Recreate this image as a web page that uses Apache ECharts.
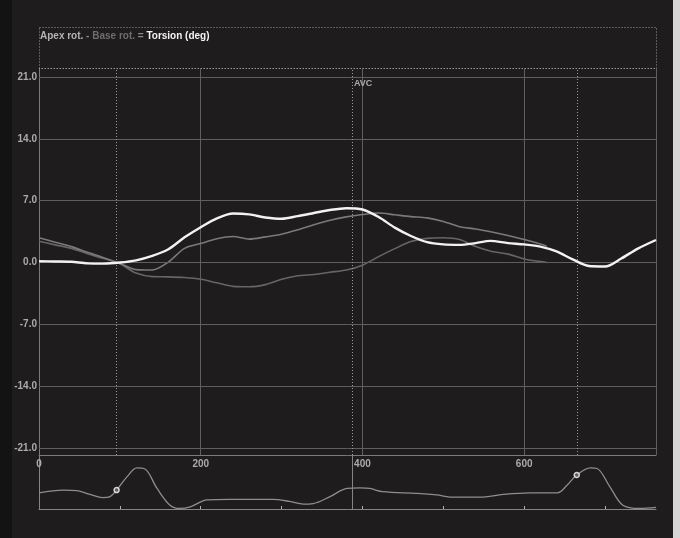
<!DOCTYPE html>
<html>
<head>
<meta charset="utf-8">
<script src="https://cdn.jsdelivr.net/npm/echarts@6/dist/echarts.min.js"></script>
<style>
  html, body { margin: 0; padding: 0; background: #1e1c1d; }
  #chart { width: 680px; height: 538px; }
</style>
</head>
<body>
<div id="chart"></div>
<script>
// Time axis (ms) and rotation curves (degrees)
const torsionMs  = [0, 20, 40, 60, 80, 100, 120, 140, 160, 180, 200, 220, 240, 260, 280, 300, 320, 340, 360, 380,
                    400, 420, 440, 460, 480, 500, 520, 540, 558, 580, 600, 620, 640, 660, 680, 700, 720, 740, 763];
const torsionDeg = [0.15, 0.12, 0.08, -0.1, -0.12, 0.0, 0.25, 0.75, 1.5, 2.85, 4.0, 5.0, 5.55, 5.45, 5.1, 4.95, 5.25, 5.6, 5.95, 6.15,
                    6.0, 5.15, 3.95, 3.0, 2.3, 2.05, 2.0, 2.2, 2.45, 2.2, 2.05, 1.8, 1.25, 0.35, -0.4, -0.45, 0.45, 1.55, 2.55];

const rotMs   = [0, 20, 40, 60, 80, 100, 120, 140, 160, 180, 200, 220, 240, 260, 280, 300, 320, 340, 360, 380,
                 400, 420, 440, 460, 480, 500, 520, 540, 560, 580, 600, 620, 628];
const apexDeg = [2.8, 2.3, 1.8, 1.15, 0.55, -0.1, -0.8, -0.85, 0.05, 1.6, 2.15, 2.7, 2.95, 2.65, 2.9, 3.2, 3.7, 4.27, 4.78, 5.17,
                 5.43, 5.6, 5.4, 5.2, 5.05, 4.65, 4.05, 3.8, 3.45, 3.05, 2.6, 2.1, 1.85];
const baseDeg = [2.4, 2.0, 1.6, 1.0, 0.45, -0.15, -1.2, -1.6, -1.62, -1.7, -1.9, -2.3, -2.7, -2.75, -2.5, -1.9, -1.5, -1.35, -1.1, -0.85,
                 -0.3, 0.67, 1.57, 2.37, 2.73, 2.8, 2.6, 1.8, 1.25, 0.95, 0.4, 0.1, 0.0];

// ECG trace (relative amplitude 0..1)
const ecgMs  = [0, 30, 47, 63, 79, 88, 96, 109, 121, 131, 146, 162, 174, 187, 208, 236, 289, 310, 327, 339, 360, 381, 397,
                409, 425, 468, 492, 508, 549, 574, 607, 641, 653, 665, 682, 690, 706, 722, 743, 763];
const ecgVal = [0.30, 0.35, 0.34, 0.27, 0.21, 0.23, 0.35, 0.60, 0.76, 0.74, 0.38, 0.07, 0.01, 0.04, 0.17, 0.18, 0.18, 0.14, 0.09, 0.10, 0.23, 0.38, 0.39,
                0.38, 0.32, 0.29, 0.26, 0.22, 0.22, 0.27, 0.30, 0.30, 0.44, 0.63, 0.76, 0.75, 0.41, 0.07, 0.01, 0.03];

// ECG trigger events and aortic valve closure
const eventMs  = [96, 665];
const eventVal = [0.35, 0.63];
const avcMs = 387;

// Axis settings
const X_MAX = 763;
const Y_TOP = 22.02;
const Y_BOTTOM = -21.79;
const yTicks = [-21, -14, -7, 0, 7, 14, 21];
const xLabels = [0, 200, 400, 600];
const ecgTicks = [100, 200, 300, 400, 500, 600, 700];

const pairs = (t, v) => t.map((x, i) => [x, v[i]]);

const GRID_COLOR = '#5f5f5f';
const DOT_COLOR = '#9a9a9a';
const LABEL_COLOR = '#ababab';
const FONT = '"Liberation Sans", Arial, sans-serif';

const chart = echarts.init(document.getElementById('chart'), null, { renderer: 'canvas' });

const frameLines = [
  ...yTicks.map(v => ({ yAxis: v, lineStyle: { type: 'solid', color: GRID_COLOR, width: 1 } })),
  { yAxis: Y_TOP, lineStyle: { type: [1, 2], color: DOT_COLOR, width: 1 } },
  { xAxis: X_MAX, lineStyle: { type: 'solid', color: GRID_COLOR, width: 1 } },
  ...eventMs.map(v => ({ xAxis: v, lineStyle: { type: [1, 2], color: DOT_COLOR, width: 1 } })),
  { xAxis: avcMs, lineStyle: { type: [1, 2], color: DOT_COLOR, width: 1 } }
];

chart.setOption({
  animation: false,
  backgroundColor: '#1e1c1d',
  title: {
    left: 40,
    top: 31,
    padding: 0,
    text: '{a|Apex rot.} {m|-} {b|Base rot.} {m|=} {t|Torsion (deg)}',
    textStyle: {
      fontFamily: FONT,
      fontSize: 10,
      rich: {
        a: { color: '#b4b4b4', fontSize: 10, fontWeight: 'bold', fontFamily: FONT },
        m: { color: '#8a8a8a', fontSize: 10, fontWeight: 'bold', fontFamily: FONT },
        b: { color: '#6e6e6e', fontSize: 10, fontWeight: 'bold', fontFamily: FONT },
        t: { color: '#f4f4f4', fontSize: 10, fontWeight: 'bold', fontFamily: FONT }
      }
    }
  },
  graphic: [
    {
      type: 'rect',
      silent: true,
      shape: { x: 0, y: 0, width: 12, height: 538 },
      style: { fill: '#141313' }
    },
    {
      type: 'rect',
      silent: true,
      shape: { x: 673, y: 0, width: 7, height: 538 },
      style: { fill: '#d6d6d6' }
    },
    {
      type: 'rect',
      silent: true,
      shape: { x: 39.5, y: 27.5, width: 617, height: 41 },
      style: { fill: 'none', stroke: DOT_COLOR, lineWidth: 1, lineDash: [1, 2] }
    }
  ],
  grid: [
    { left: 39, right: 24, top: 68, bottom: 83 },
    { left: 39, right: 24, top: 455, bottom: 29 }
  ],
  xAxis: [
    {
      type: 'value', gridIndex: 0, min: 0, max: X_MAX, interval: 200,
      axisLine: { show: true, onZero: false, lineStyle: { color: '#7a7a7a', width: 1 } },
      axisTick: { show: false },
      axisLabel: { customValues: xLabels, color: LABEL_COLOR, fontSize: 10, fontFamily: FONT, fontWeight: 'bold', margin: 4 },
      splitLine: { show: true, lineStyle: { color: GRID_COLOR, width: 1 } }
    },
    {
      type: 'value', gridIndex: 1, min: 0, max: X_MAX, interval: 100,
      axisLine: { show: true, onZero: false, lineStyle: { color: '#858585', width: 1 } },
      axisTick: { show: true, inside: true, length: 3, customValues: ecgTicks, lineStyle: { color: '#b0b0b0', width: 1 } },
      axisLabel: { show: false },
      splitLine: { show: false }
    }
  ],
  yAxis: [
    {
      type: 'value', gridIndex: 0, min: Y_BOTTOM, max: Y_TOP,
      axisLine: { show: true, lineStyle: { color: '#7a7a7a', width: 1 } },
      axisTick: { show: false },
      axisLabel: {
        customValues: yTicks, formatter: v => v.toFixed(1),
        color: LABEL_COLOR, fontSize: 10, fontFamily: FONT, fontWeight: 'bold', margin: 2
      },
      splitLine: { show: false }
    },
    {
      type: 'value', gridIndex: 1, min: 0, max: 1,
      axisLine: { show: true, lineStyle: { color: '#858585', width: 1 } },
      axisTick: { show: false },
      axisLabel: { show: false },
      splitLine: { show: false }
    }
  ],
  series: [
    {
      name: 'frame',
      type: 'line',
      xAxisIndex: 0, yAxisIndex: 0,
      data: [],
      silent: true,
      z: 1,
      markLine: {
        silent: true,
        symbol: ['none', 'none'],
        label: { show: false },
        data: frameLines
      },
      markPoint: {
        silent: true,
        data: [{
          coord: [avcMs, 20.3],
          symbol: 'circle',
          symbolSize: 0,
          label: { show: true, formatter: 'AVC', position: 'right', distance: 2,
                   color: LABEL_COLOR, fontSize: 9, fontWeight: 'bold', fontFamily: FONT }
        }]
      }
    },
    {
      name: 'Base rot.',
      type: 'line',
      xAxisIndex: 0, yAxisIndex: 0,
      data: pairs(rotMs, baseDeg),
      smooth: 0.3,
      symbol: 'none',
      z: 3,
      lineStyle: { color: '#666666', width: 1.6 }
    },
    {
      name: 'Apex rot.',
      type: 'line',
      xAxisIndex: 0, yAxisIndex: 0,
      data: pairs(rotMs, apexDeg),
      smooth: 0.3,
      symbol: 'none',
      z: 4,
      lineStyle: { color: '#7a7a7a', width: 1.6 }
    },
    {
      name: 'Torsion',
      type: 'line',
      xAxisIndex: 0, yAxisIndex: 0,
      data: pairs(torsionMs, torsionDeg),
      smooth: 0.3,
      symbol: 'none',
      z: 5,
      lineStyle: { color: '#f2f2f2', width: 2.4 }
    },
    {
      name: 'ECG',
      type: 'line',
      xAxisIndex: 1, yAxisIndex: 1,
      data: pairs(ecgMs, ecgVal),
      smooth: 0.35,
      symbol: 'none',
      z: 3,
      lineStyle: { color: '#8e8e8e', width: 1.3 },
      markLine: {
        silent: true,
        symbol: ['none', 'none'],
        label: { show: false },
        data: [{ xAxis: avcMs, lineStyle: { type: 'solid', color: '#858585', width: 1 } }]
      }
    },
    {
      name: 'events',
      type: 'scatter',
      xAxisIndex: 1, yAxisIndex: 1,
      data: pairs(eventMs, eventVal),
      symbol: 'circle',
      symbolSize: 5,
      z: 6,
      itemStyle: { color: '#5a5a5a', borderColor: '#ffffff', borderWidth: 1.5 }
    }
  ]
});
</script>
</body>
</html>
